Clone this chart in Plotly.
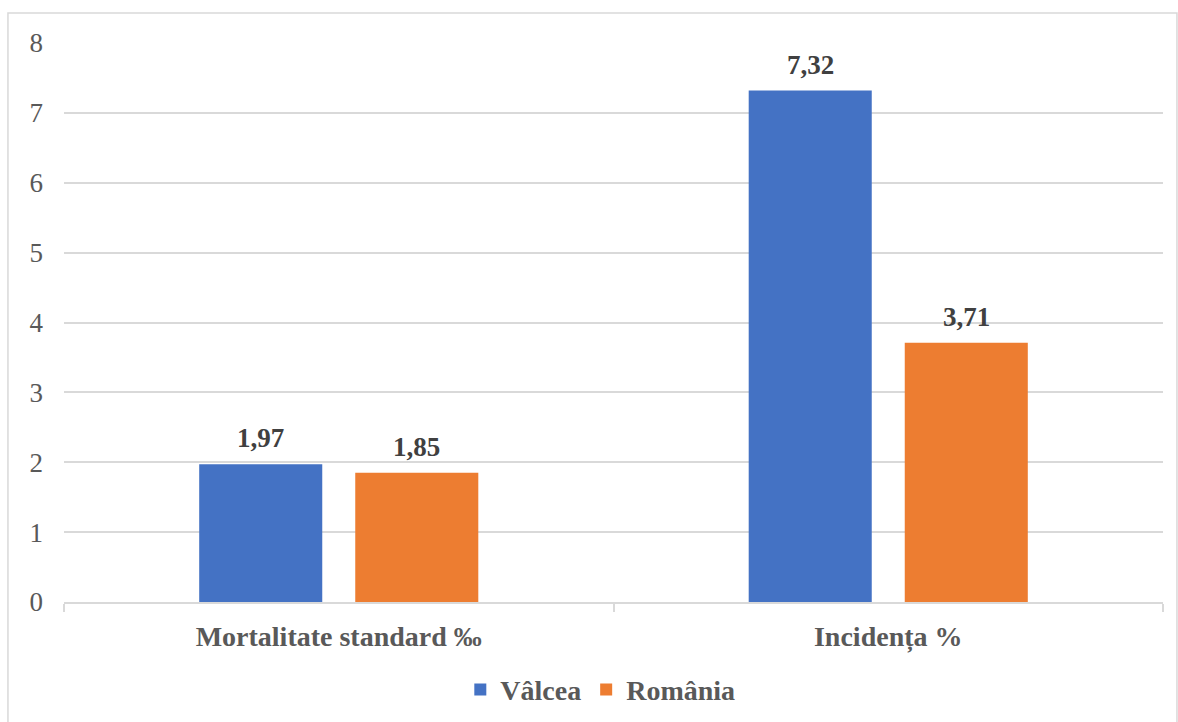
import plotly.graph_objects as go

categories = ["Mortalitate standard ‰", "Incidența %"]
valcea = [1.97, 7.32]
romania = [1.85, 3.71]
series_names = ["Vâlcea", "România"]
y_ticks = [0, 1, 2, 3, 4, 5, 6, 7, 8]

BLUE = "#4472C4"
ORANGE = "#ED7D31"
GRID = "#D9D9D9"
FONT = "Liberation Serif"


def fmt(v):
    return f"{v:.2f}".replace(".", ",")


fig = go.Figure()
fig.add_trace(go.Bar(x=categories, y=valcea, name=series_names[0],
                     marker=dict(color=BLUE, line=dict(width=0))))
fig.add_trace(go.Bar(x=categories, y=romania, name=series_names[1],
                     marker=dict(color=ORANGE, line=dict(width=0))))

# value labels above each bar
for vals, shift in ((valcea, -78), (romania, 78)):
    for cat, v in zip(categories, vals):
        fig.add_annotation(x=cat, y=v, text=f"<b>{fmt(v)}</b>", showarrow=False,
                           xshift=shift, yshift=9, yanchor="bottom",
                           font=dict(family=FONT, size=27, color="#404040"))

# outer chart border
fig.add_shape(type="rect", xref="paper", yref="paper",
              x0=-0.051, x1=1.0127, y0=-0.3, y1=1.0537,
              line=dict(color=GRID, width=1.5), layer="below")

fig.update_layout(
    width=1178, height=722,
    margin=dict(l=64, r=15, t=43, b=120, autoexpand=False),
    paper_bgcolor="white", plot_bgcolor="white",
    barmode="group", bargap=0.432, bargroupgap=0.2115,
    font=dict(family=FONT, color="#595959"),
    showlegend=True,
    legend=dict(orientation="h", x=0.488, xanchor="center", y=-0.157, yanchor="middle",
                font=dict(family=FONT, size=28, color="#595959", weight="bold"),
                itemwidth=30, tracegroupgap=0),
)
fig.update_xaxes(
    automargin=False,
    showgrid=False, showline=True, linecolor=GRID, linewidth=1.5,
    ticks="outside", tickson="boundaries", ticklen=8, tickcolor=GRID, tickwidth=1.5,
    tickfont=dict(family=FONT, size=28, color="#595959", weight="bold"),
    ticklabelstandoff=9,
)
fig.update_yaxes(
    automargin=False,
    range=[0, 8], tickvals=y_ticks, showgrid=True, gridcolor=GRID, gridwidth=1.5,
    zeroline=False, showline=False, ticks="",
    tickfont=dict(family=FONT, size=27, color="#595959"),
    ticklabelstandoff=20,
)

fig.write_html("out.html")
